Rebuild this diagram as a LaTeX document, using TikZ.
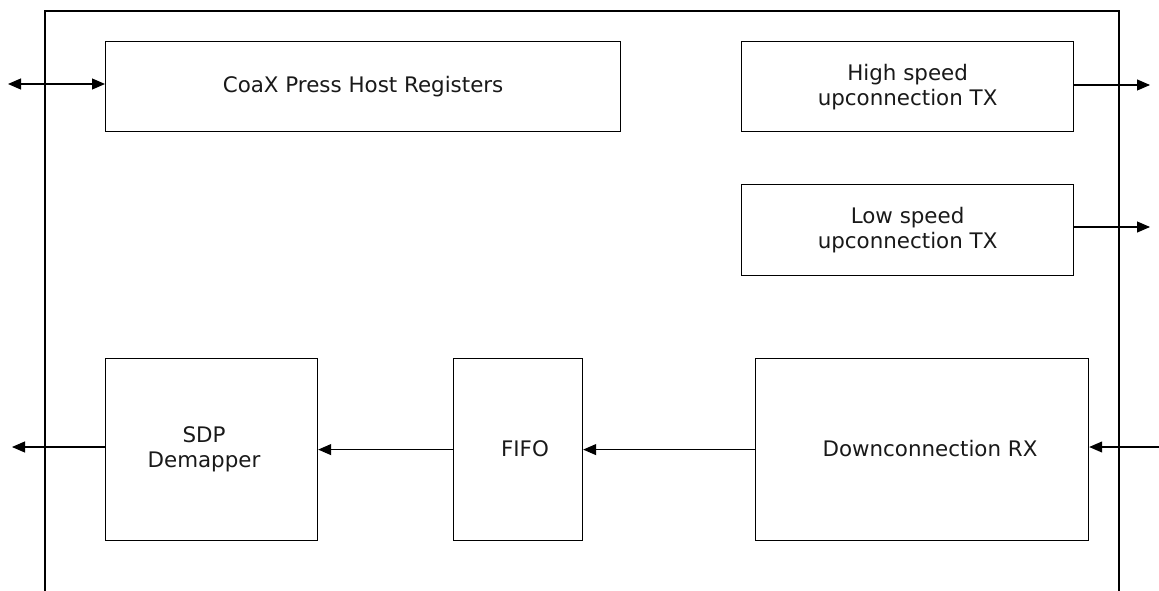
\documentclass[tikz,border=0pt]{standalone}
\usepackage{fontspec}
\setmainfont{DejaVu Sans}
\usetikzlibrary{arrows.meta}
\begin{document}
\begin{tikzpicture}[x=1pt,y=-1pt,
  blk/.style={draw=black, line width=1.2pt, inner sep=0pt, anchor=north west},
  lbl/.style={font=\fontsize{21.4}{25}\selectfont, align=center, inner sep=0pt, text=black!90},
  arr/.style={line width=1.1pt, -{Triangle[length=13pt,width=11pt]}},
  biarr/.style={line width=1.1pt, {Triangle[length=13pt,width=11pt]}-{Triangle[length=13pt,width=11pt]}},
  frm/.style={line width=1.2pt}]
\useasboundingbox (0,0) rectangle (1159,591);
% outer frame
\coordinate (fbl) at (45,591);
\coordinate (ftl) at (45,11);
\coordinate (ftr) at (1119,11);
\coordinate (fbr) at (1119,591);
\draw[frm] (fbl) -- (ftl) -- (ftr) -- (fbr);
% blocks
\node[blk, minimum width=515pt, minimum height=90pt] (reg) at (105,41) {};
\node[lbl] (regt) at (reg.center) {CoaX Press Host Registers};
\node[blk, minimum width=332pt, minimum height=90pt] (hs) at (741,41) {};
\node[lbl] (hst) at (hs.center) {High speed\\upconnection TX};
\node[blk, minimum width=332pt, minimum height=91pt] (ls) at (741,184) {};
\node[lbl] (lst) at (ls.center) {Low speed\\upconnection TX};
\node[blk, minimum width=212pt, minimum height=182pt] (sdp) at (105,358) {};
\node[lbl] (sdpt) at (204,449) {SDP\\Demapper};
\node[blk, minimum width=129pt, minimum height=182pt] (fifo) at (453,358) {};
\node[lbl] (fifot) at (525,449) {FIFO};
\node[blk, minimum width=333pt, minimum height=182pt] (rx) at (755,358) {};
\node[lbl] (rxt) at (930,449) {Downconnection RX};
% free ends
\coordinate (regio) at (8,84);
\coordinate (hsout) at (1150,85);
\coordinate (lsout) at (1150,227);
\coordinate (sdpout) at (12,447);
\coordinate (rxin) at (1160,447);
% connectors
\draw[biarr] (regio) -- (regio -| reg.west);
\draw[arr] (hs.east |- hsout) -- (hsout);
\draw[arr] (ls.east |- lsout) -- (lsout);
\draw[arr] (sdp.west |- sdpout) -- (sdpout);
\draw[arr] (fifo.west) -- (sdp.east);
\draw[arr] (rx.west) -- (fifo.east);
\draw[arr] (rxin) -- (rxin -| rx.east);
\end{tikzpicture}
\end{document}
